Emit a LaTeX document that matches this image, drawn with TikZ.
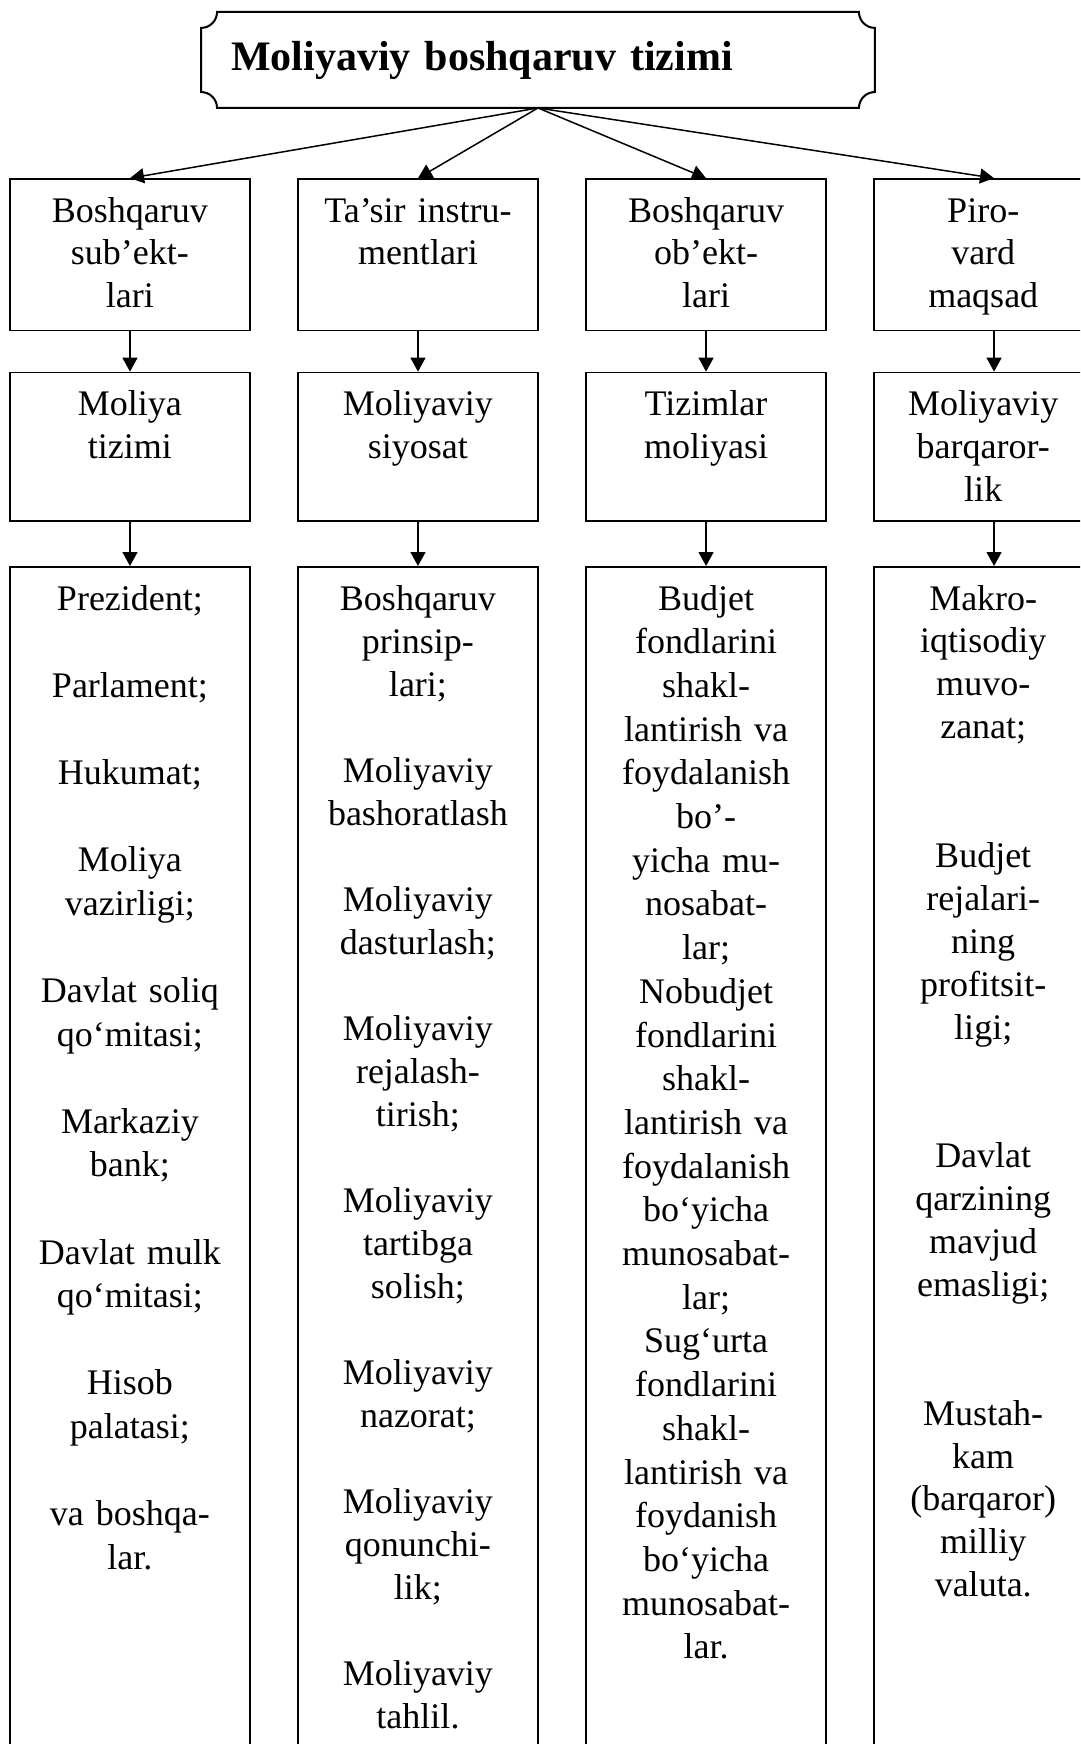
\documentclass[tikz,border=0pt]{standalone}
\usepackage{fontspec}
\setmainfont{Liberation Serif}
\usetikzlibrary{arrows.meta,positioning}

\tikzset{
	frame/.style={draw, line width=0.9pt, minimum width=4.226cm, inner sep=0pt},
	txt/.style={text width=4.1cm, align=center, inner sep=0pt, text height=12pt, anchor=north, font=\fontsize{18}{#1}\selectfont},
	txt/.default=21.4,
	link/.style={line width=0.75pt, -{Triangle[length=7pt,width=7.5pt]}}
}

\begin{document}
\begin{tikzpicture}
	\path[use as bounding box] (0,0) rectangle (18.979,-30.647);
	\clip (0,0) rectangle (18.979,-30.647);
	% title plaque
	\node[minimum width=11.84cm, minimum height=1.687cm, text width=10.78cm, inner xsep=0.53cm, outer sep=0pt, align=left, font=\fontsize{21}{25}\selectfont\bfseries] (T) at (9.454,-1.054) {Moliyaviy boshqaruv tizimi};
	\draw[line width=1pt] ([xshift=0.28cm]T.north west) -- ([xshift=-0.28cm]T.north east) arc (180:270:0.28cm)
		-- ([yshift=0.28cm]T.south east) arc (90:180:0.28cm)
		-- ([xshift=0.28cm]T.south west) arc (0:90:0.28cm)
		-- ([yshift=-0.28cm]T.north west) arc (270:360:0.28cm) -- cycle;
	% boxes
	\node[frame, minimum height=2.662cm] (subj1) at (2.284,-4.478) {};
	\node[frame, minimum height=2.662cm] (inst1) at (7.345,-4.478) {};
	\node[frame, minimum height=2.662cm] (obj1) at (12.407,-4.478) {};
	\node[frame, minimum height=2.662cm] (goal1) at (17.468,-4.478) {};
	\node[frame, minimum height=2.606cm, below=0.706cm of subj1] (subj2) {};
	\node[frame, minimum height=2.606cm, below=0.706cm of inst1] (inst2) {};
	\node[frame, minimum height=2.606cm, below=0.706cm of obj1] (obj2) {};
	\node[frame, minimum height=2.606cm, below=0.706cm of goal1] (goal2) {};
	\node[frame, minimum height=21.2cm, below=0.778cm of subj2] (subj3) {};
	\node[frame, minimum height=21.2cm, below=0.778cm of inst2] (inst3) {};
	\node[frame, minimum height=21.2cm, below=0.778cm of obj2] (obj3) {};
	\node[frame, minimum height=21.2cm, below=0.778cm of goal2] (goal3) {};
	% texts
	\node[txt, below=9.8pt of subj1.north] (subj1t) {Boshqaruv\\sub’ekt-\\lari};
	\node[txt, below=9.8pt of inst1.north] (inst1t) {Ta’sir instru-\\mentlari};
	\node[txt, below=9.8pt of obj1.north] (obj1t) {Boshqaruv\\ob’ekt-\\lari};
	\node[txt, below=9.8pt of goal1.north, xshift=-0.19cm] (goal1t) {Piro-\\vard\\maqsad};
	\node[txt, below=9.8pt of subj2.north] (subj2t) {Moliya\\tizimi};
	\node[txt, below=9.8pt of inst2.north] (inst2t) {Moliyaviy\\siyosat};
	\node[txt, below=9.8pt of obj2.north] (obj2t) {Tizimlar\\moliyasi};
	\node[txt, below=9.8pt of goal2.north, xshift=-0.19cm] (goal2t) {Moliyaviy\\barqaror-\\lik};
	\node[txt=21.8, below=9.8pt of subj3.north] (subj3t) {Prezident;\\[\baselineskip]Parlament;\\[\baselineskip]Hukumat;\\[\baselineskip]Moliya\\vazirligi;\\[\baselineskip]Davlat soliq\\qo‘mitasi;\\[\baselineskip]Markaziy\\bank;\\[\baselineskip]Davlat mulk\\qo‘mitasi;\\[\baselineskip]Hisob\\palatasi;\\[\baselineskip]va boshqa-\\lar.};
	\node[txt=21.5, below=9.8pt of inst3.north] (inst3t) {Boshqaruv\\prinsip-\\lari;\\[\baselineskip]Moliyaviy\\bashoratlash\\[\baselineskip]Moliyaviy\\dasturlash;\\[\baselineskip]Moliyaviy\\rejalash-\\tirish;\\[\baselineskip]Moliyaviy\\tartibga\\solish;\\[\baselineskip]Moliyaviy\\nazorat;\\[\baselineskip]Moliyaviy\\qonunchi-\\lik;\\[\baselineskip]Moliyaviy\\tahlil.};
	\node[txt=21.85, below=9.8pt of obj3.north] (obj3t) {Budjet\\fondlarini\\shakl-\\lantirish va\\foydalanish\\bo’-\\yicha mu-\\nosabat-\\lar;\\Nobudjet\\fondlarini\\shakl-\\lantirish va\\foydalanish\\bo‘yicha\\munosabat-\\lar;\\Sug‘urta\\fondlarini\\shakl-\\lantirish va\\foydanish\\bo‘yicha\\munosabat-\\lar.};
	\node[txt=21.45, below=9.8pt of goal3.north, xshift=-0.19cm] (goal3t) {Makro-\\iqtisodiy\\muvo-\\zanat;\\[2\baselineskip]Budjet\\rejalari-\\ning\\profitsit-\\ligi;\\[2\baselineskip]Davlat\\qarzining\\mavjud\\emasligi;\\[2\baselineskip]Mustah-\\kam\\(barqaror)\\milliy\\valuta.};
	% arrows
	\draw[link] (T.south) -- (subj1.north);
	\draw[link] (T.south) -- (inst1.north);
	\draw[link] (T.south) -- (obj1.north);
	\draw[link] (T.south) -- (goal1.north);
	\draw[link] (subj1) -- (subj2);
	\draw[link] (inst1) -- (inst2);
	\draw[link] (obj1) -- (obj2);
	\draw[link] (goal1) -- (goal2);
	\draw[link] (subj2) -- (subj3);
	\draw[link] (inst2) -- (inst3);
	\draw[link] (obj2) -- (obj3);
	\draw[link] (goal2) -- (goal3);
\end{tikzpicture}
\end{document}
